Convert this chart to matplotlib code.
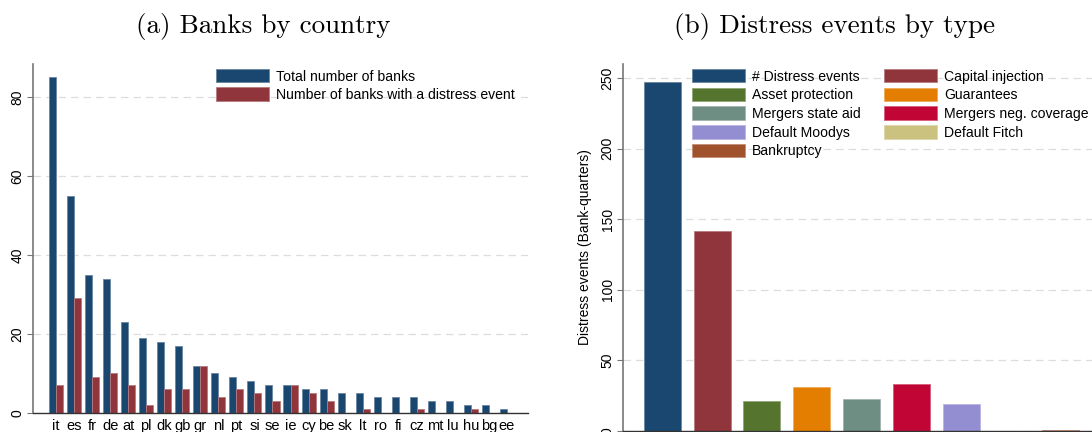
import matplotlib
matplotlib.use('Agg')
import matplotlib.pyplot as plt
import numpy as np

plt.rcParams['font.family'] = ['Liberation Sans', 'DejaVu Sans']

# panel (a): banks per country
countries = ['it', 'es', 'fr', 'de', 'at', 'pl', 'dk', 'gb', 'gr', 'nl', 'pt', 'si', 'se',
             'ie', 'cy', 'be', 'sk', 'lt', 'ro', 'fi', 'cz', 'mt', 'lu', 'hu', 'bg', 'ee']
total_banks = [85, 55, 35, 34, 23, 19, 18, 17, 12, 10, 9, 8, 7,
               7, 6, 6, 5, 5, 4, 4, 4, 3, 3, 2, 2, 1]
distress_banks = [7, 29, 9, 10, 7, 2, 6, 6, 12, 4, 6, 5, 3,
                  7, 5, 3, 0, 1, 0, 0, 1, 0, 0, 1, 0, 0]

# panel (b): distress events by type
event_types = ['# Distress events', 'Capital injection', 'Asset protection', 'Guarantees',
               'Mergers state aid', 'Mergers neg. coverage', 'Default Moodys',
               'Default Fitch', 'Bankruptcy']
event_counts = [247, 142, 21, 31, 23, 33, 19, 0, 1]
event_colors = ['#1a476f', '#90353b', '#55752f', '#e37e00', '#6e8e84',
                '#c10534', '#938dd2', '#cac27e', '#a0522d']

navy = '#1a476f'
maroon = '#90353b'


def lighten(c, amt=0.35):
    rgb = np.array(matplotlib.colors.to_rgb(c))
    return tuple(rgb + (1 - rgb) * amt)


def style_axes(ax):
    ax.spines['top'].set_visible(False)
    ax.spines['right'].set_visible(False)
    ax.spines['left'].set_color('#777777')
    ax.spines['left'].set_linewidth(1.2)
    ax.spines['bottom'].set_color('#333333')
    ax.spines['bottom'].set_linewidth(1.0)
    ax.yaxis.grid(True, color='#dddddd', linestyle=(0, (6, 4)), linewidth=0.9)
    ax.set_axisbelow(True)
    ax.tick_params(axis='y', direction='out', length=4, color='#777777',
                   labelsize=10, labelrotation=90, pad=2)
    for lab in ax.get_yticklabels():
        lab.set_va('center')
    ax.tick_params(axis='x', length=0, labelsize=10.5, pad=4)


fig = plt.figure(figsize=(10.92, 4.32), dpi=100)

# ---- (a)
ax1 = fig.add_axes([33 / 1092, 19 / 432, 495 / 1092, 349 / 432])
x = np.arange(len(countries))
w = 0.39
ax1.bar(x - w / 2, total_banks, w, color=navy, edgecolor=lighten(navy), linewidth=0.6,
        label='Total number of banks')
ax1.bar(x + w / 2, distress_banks, w, color=maroon, edgecolor=lighten(maroon), linewidth=0.6,
        label='Number of banks with a distress event')
ax1.set_xlim(-1.28, 26.17)
ax1.set_ylim(0, 88.3)
ax1.set_yticks([0, 20, 40, 60, 80])
ax1.set_xticks(x)
ax1.set_xticklabels(countries)
style_axes(ax1)
ax1.legend(loc='upper left', bbox_to_anchor=(216 / 1092, 1 - 69 / 432),
           bbox_transform=fig.transFigure, frameon=False, fontsize=10.1,
           handlelength=3.8, handleheight=1.1, labelspacing=0.28, handletextpad=0.5,
           borderpad=0, borderaxespad=0)
fig.text(263 / 1092, 1 - 26 / 432, '(a) Banks by country', family='cmr10',
         fontsize=19.5, ha='center', va='center')

# ---- (b)
ax2 = fig.add_axes([623 / 1092, 1 / 432, 477 / 1092, 367 / 432])
xb = np.arange(len(event_types))
bars = ax2.bar(xb, event_counts, 0.74, color=event_colors,
               edgecolor=[lighten(c) for c in event_colors], linewidth=0.6)
ax2.set_xlim(-0.79, 8.79)
ax2.set_ylim(0, 260)
ax2.set_yticks([0, 50, 100, 150, 200, 250])
ax2.set_xticks([])
ax2.set_ylabel('Distress events (Bank-quarters)', fontsize=10, labelpad=6)
style_axes(ax2)
order = [0, 2, 4, 6, 8, 1, 3, 5, 7]
ax2.legend([bars[i] for i in order], [event_types[i] for i in order],
           loc='upper left', bbox_to_anchor=(692 / 1092, 1 - 69 / 432),
           bbox_transform=fig.transFigure, frameon=False, fontsize=10.1, ncol=2,
           handlelength=3.8, handleheight=1.1, labelspacing=0.3, handletextpad=0.5,
           columnspacing=1.6, borderpad=0, borderaxespad=0)
fig.text(835 / 1092, 1 - 26 / 432, '(b) Distress events by type', family='cmr10',
         fontsize=19.5, ha='center', va='center')

fig.savefig('out.png', dpi=100)
